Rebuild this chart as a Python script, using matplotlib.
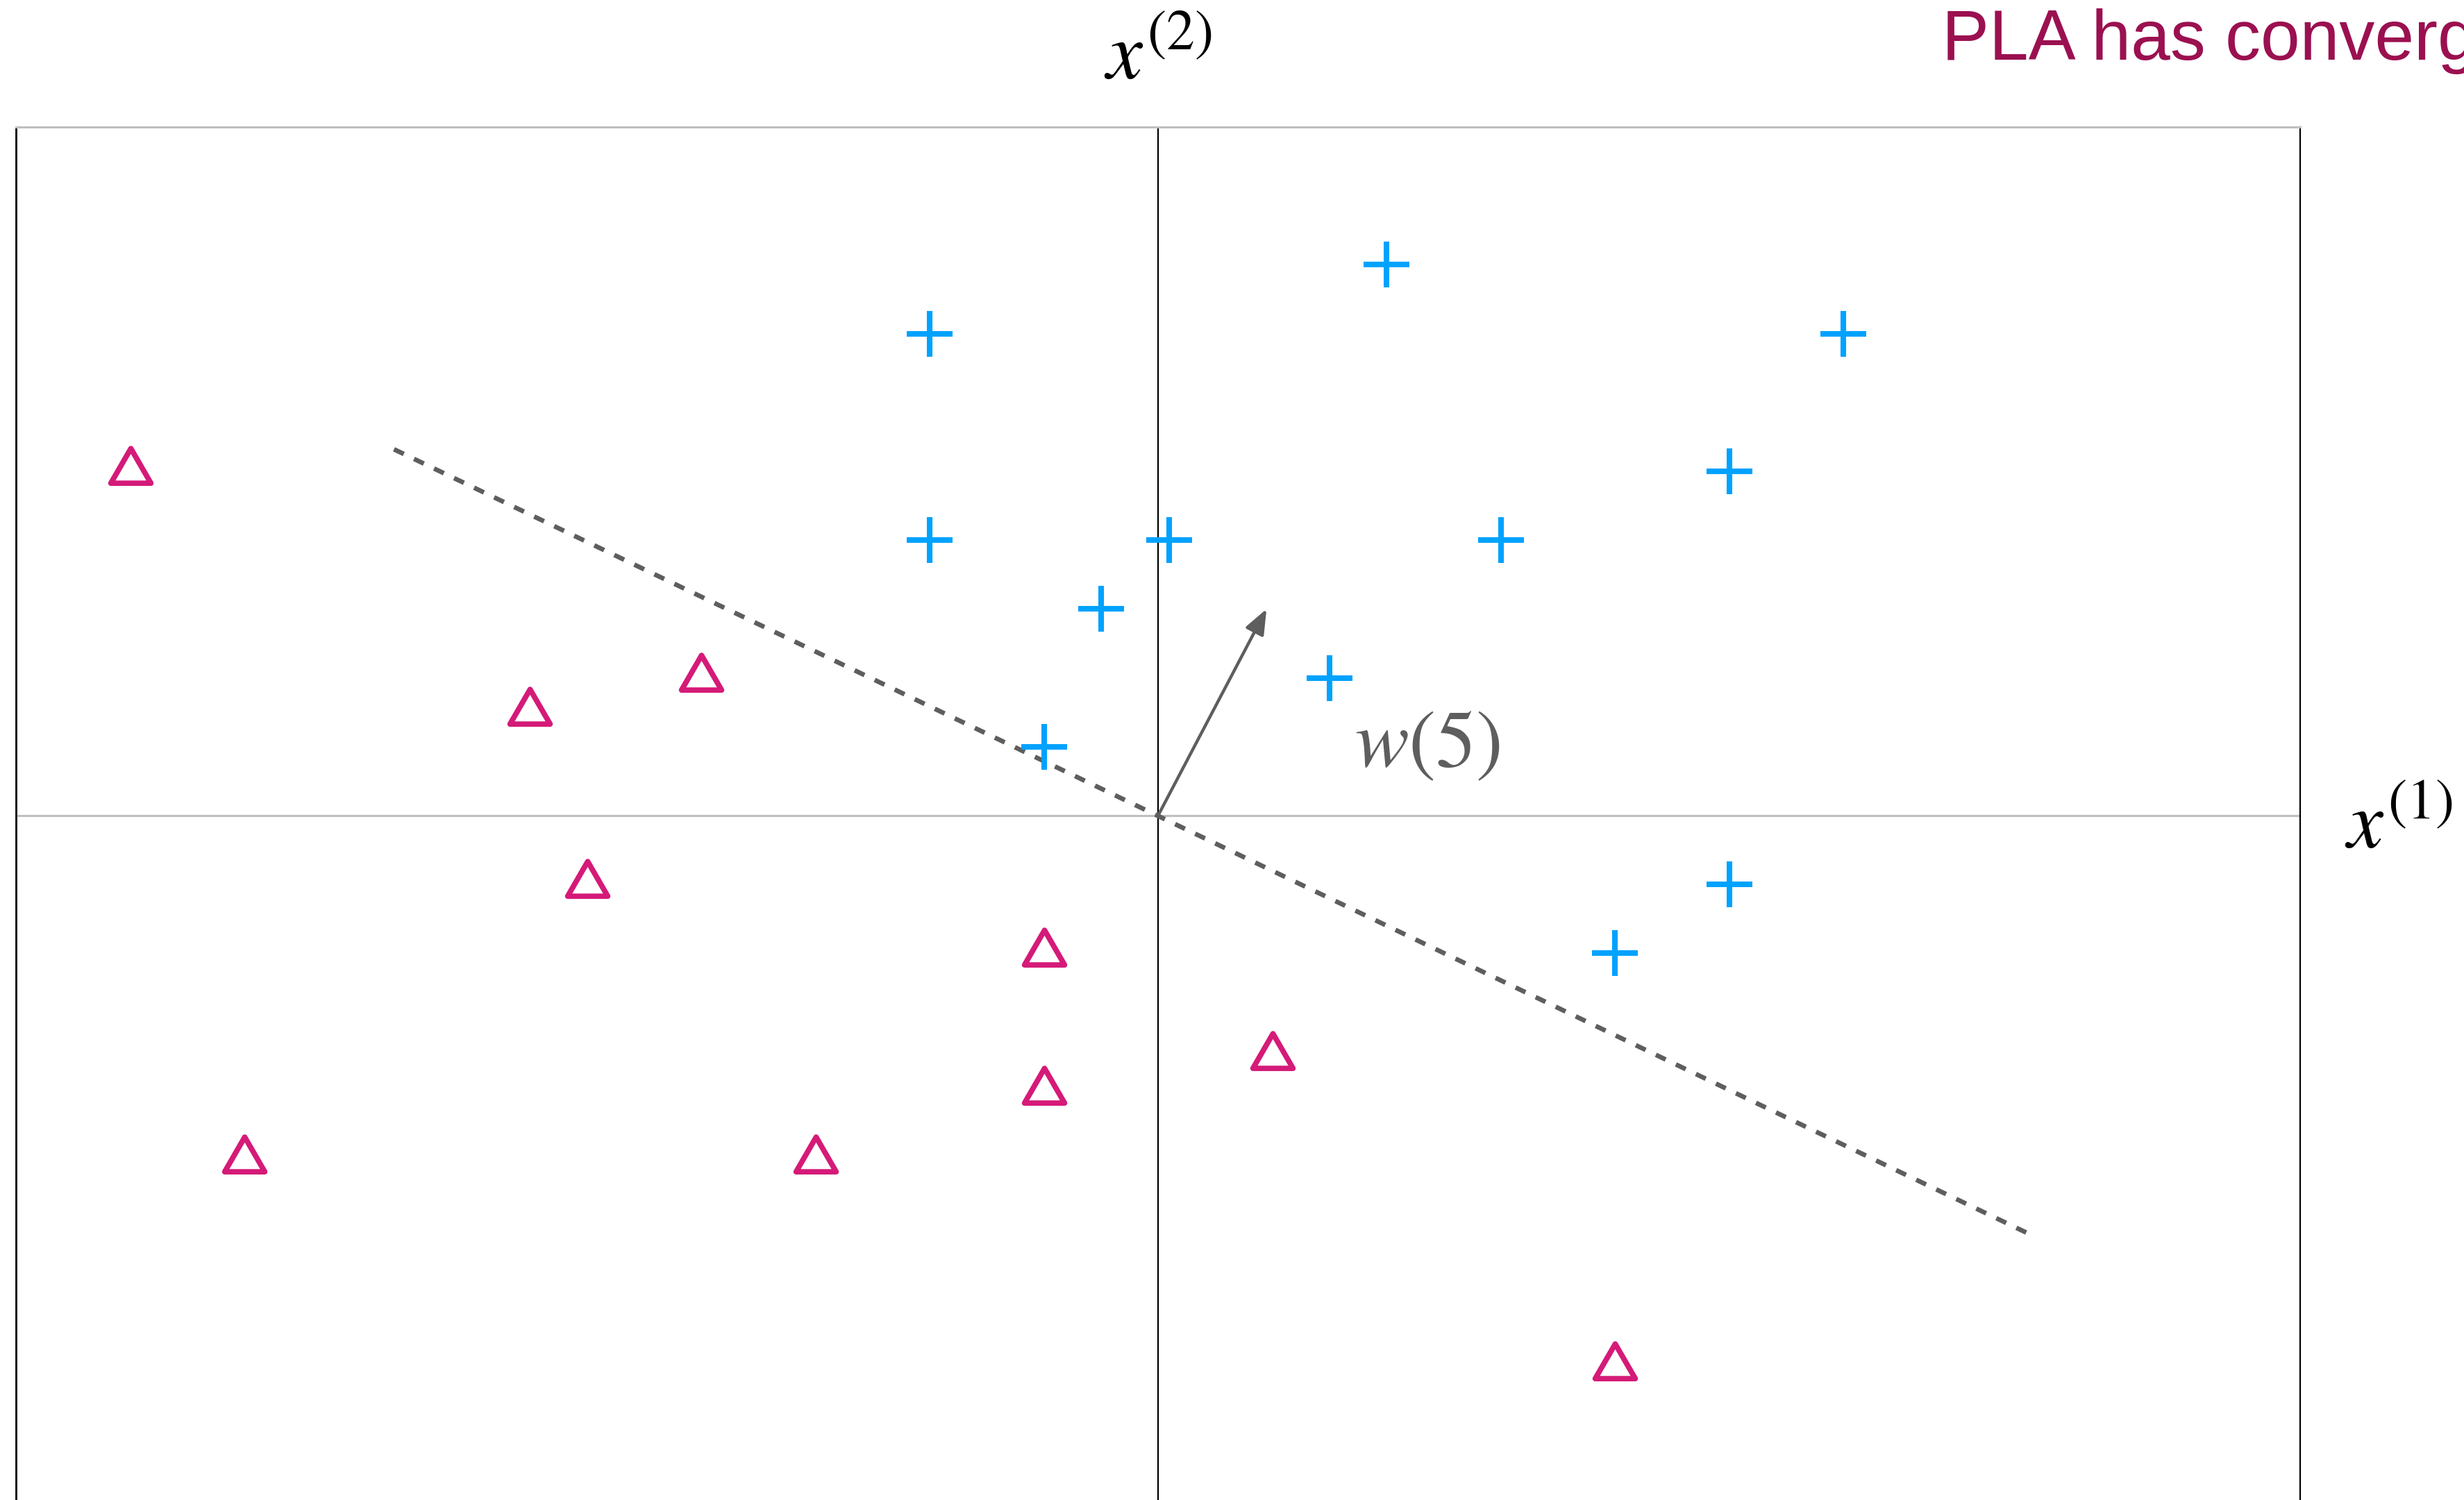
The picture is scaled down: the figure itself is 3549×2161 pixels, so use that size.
import matplotlib.pyplot as plt
from matplotlib.markers import MarkerStyle
from matplotlib.path import Path
import numpy as np

plt.rcParams['mathtext.fontset'] = 'stix'

# +1 examples
pos_x = [-2, 2, 6, 5, -2, 0.1, 3, -0.5, 1.5, -1, 5, 4]
pos_y = [7, 8, 7, 5, 4, 4, 4, 3, 2, 1, -1, -2]
# -1 examples
neg_x = [-9, -4, -5.5, -5, -1, -1, 1, -8, -3, 4]
neg_y = [5, 2, 1.5, -1, -2, -4, -3.5, -5, -5, -8]

# weight vector after 5 updates and its boundary
w5 = [0.95, 3.0]
boundary_x = [-6.69, 7.62]
boundary_y = [5.32, -6.07]

plus_color = '#00A2FF'
tri_color = '#D51A78'
gray = '#5E5E5E'

# equilateral triangle centred on its centroid
h = np.sqrt(3)
tri_path = Path([(-1, -h / 3), (1, -h / 3), (0, 2 * h / 3), (-1, -h / 3)],
                [Path.MOVETO, Path.LINETO, Path.LINETO, Path.CLOSEPOLY])
tri_marker = MarkerStyle(tri_path, joinstyle='miter')

W, H, dpi = 3549, 2161, 200
fig = plt.figure(figsize=(W / dpi, H / dpi), dpi=dpi)
ax = fig.add_axes([23 / W, (H - 2167) / H, (3313 - 23) / W, (2167 - 183) / H])
ax.set_xlim(-10, 10)
ax.set_ylim(-10, 10)
ax.set_xticks([])
ax.set_yticks([])

ax.spines['left'].set_color('black')
ax.spines['left'].set_linewidth(1.0)
ax.spines['right'].set_color('black')
ax.spines['right'].set_linewidth(0.8)
ax.spines['top'].set_color('#BFBFBF')
ax.spines['top'].set_linewidth(1.1)
ax.spines['bottom'].set_visible(False)

ax.axhline(0, color='#BFBFBF', lw=1.1, zorder=1)
ax.axvline(0, color='black', lw=0.8, zorder=1)

ax.plot(boundary_x, boundary_y, color=gray, lw=2.4, dashes=(2.35, 2.45), zorder=2)
ax.annotate('', xy=(w5[0], w5[1]), xytext=(0, 0),
            arrowprops=dict(arrowstyle='-|>,head_length=0.55,head_width=0.22',
                            color=gray, lw=1.6, shrinkA=0, shrinkB=0,
                            mutation_scale=20), zorder=3)

ax.plot(pos_x, pos_y, linestyle='none', marker='+', ms=24, mew=2.9,
        color=plus_color, zorder=4)
ax.plot(neg_x, neg_y, linestyle='none', marker=tri_marker, ms=24, mew=2.8,
        markerfacecolor='none', markeredgecolor=tri_color, zorder=4)

ax.text(0, 10.7, r'$x^{(2)}$', ha='center', va='baseline', fontsize=42)
ax.text(10.39, -0.47, r'$x^{(1)}$', ha='left', va='baseline', fontsize=42)
ax.text(1.72, 0.71, r'$w(5)$', ha='left', va='baseline', fontsize=42, color=gray)

fig.text(2797 / W, 1 - 86 / H, 'PLA has converged!', fontsize=36.7,
         family=['Liberation Sans', 'DejaVu Sans'], color='#9B1050',
         ha='left', va='baseline')

fig.savefig('out.png', dpi=dpi)
